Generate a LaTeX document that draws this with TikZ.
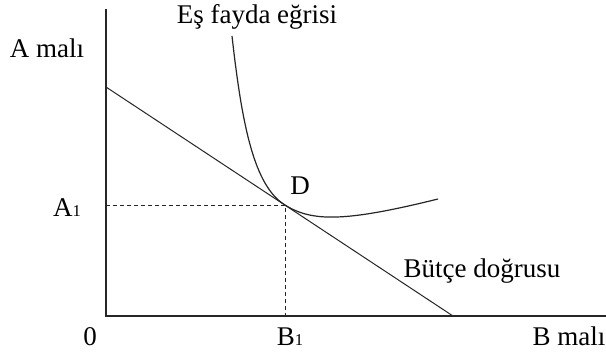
\documentclass[tikz,border=0pt]{standalone}
\usepackage{fontspec}
\setmainfont{Liberation Serif}
\begin{document}
\begin{tikzpicture}[x=1pt,y=-1pt,
  lbl/.style={inner sep=0pt,anchor=base,font=\fontsize{27}{29}\selectfont},
  ax/.style={line width=1.1pt,black!85},
  ln/.style={line width=1pt,black!85},
  dsh/.style={line width=0.9pt,black!85,dash pattern=on 4pt off 3pt},
  crv/.style={line width=1.2pt,black!85}]
\useasboundingbox (0,0) rectangle (606,360);
\fill[white] (0,0) rectangle (606,360);
\newcommand{\sub}{{\fontsize{16.5}{16.5}\selectfont 1}}
% axes
\coordinate (ytop) at (106,9);
\coordinate (O) at (106,316);
\coordinate (xend) at (606,316);
\draw[ax] (ytop) -- (O) -- (xend);
% budget line
\coordinate (bl0) at (106,87);
\coordinate (bl1) at (453,316);
\draw[ln] (bl0) -- (bl1);
% tangency
\coordinate (D) at (285,205);
\coordinate (Dy) at (106,205);
\coordinate (Dx) at (285,316);
\draw[dsh] (Dy) -- (D) -- (Dx);
% indifference curve
\coordinate (c0) at (232,36);
\coordinate (c1) at (438,199);
\draw[crv] (c0) .. controls (242,125) and (254,186) .. (D)
  .. controls (312,222) and (345,222) .. (c1);
% labels
\node[lbl] (la) at (47,57) {A malı};
\node[lbl] (la1) at (67,216) {A\sub};
\node[lbl] (l0) at (90,345) {0};
\node[lbl] (lb1) at (290,345) {B\sub};
\node[lbl] (lb) at (569,345) {B malı};
\node[lbl] (le) at (257,23) {Eş fayda eğrisi};
\node[lbl] (ld) at (300,194) {D};
\node[lbl] (lbu) at (482,277) {Bütçe doğrusu};
\end{tikzpicture}
\end{document}
